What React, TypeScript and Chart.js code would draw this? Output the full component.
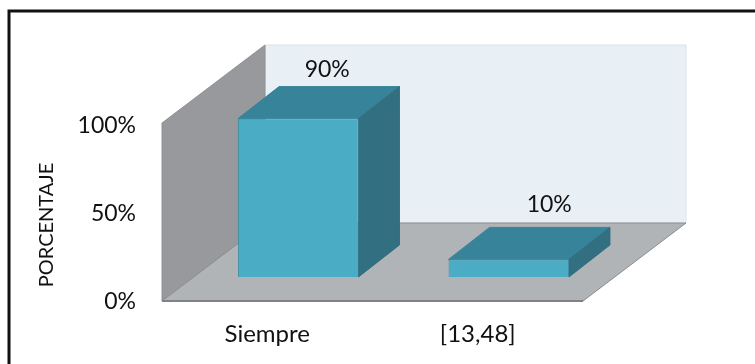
import React, { useEffect, useRef } from "react";
import { Chart, registerables } from "chart.js";

Chart.register(...registerables);

const categories = ["Siempre", "[13,48]"];
const percentages = [90, 10];
const yTicks = [0, 50, 100];
const yTitle = "PORCENTAJE";

const FONT = "Lato, 'Noto Sans', sans-serif";

// Oblique projection: how far the back wall and the bar bases sit from the front plane.
const WALL_DEPTH = { x: 103, y: -78 };
const WALL_OVERHANG = 2; // walls rise slightly past the top tick
const BAR_INSET = { x: 31, y: -24 };
const BAR_DEPTH = { x: 41, y: -32 };
const LABEL_SHIFT = [
  { x: 29, y: -49 },
  { x: 40.5, y: -55 },
];

function poly(ctx: CanvasRenderingContext2D, pts: number[][], fill: string, stroke?: string, lw = 1) {
  ctx.beginPath();
  pts.forEach(([x, y], i) => (i ? ctx.lineTo(x, y) : ctx.moveTo(x, y)));
  ctx.closePath();
  ctx.fillStyle = fill;
  ctx.fill();
  if (stroke) {
    ctx.strokeStyle = stroke;
    ctx.lineWidth = lw;
    ctx.stroke();
  }
}

const scene3d = {
  id: "scene3d",
  beforeDraw(chart: any) {
    const { ctx, chartArea: a } = chart;
    const dx = WALL_DEPTH.x;
    const dy = WALL_DEPTH.y;
    const top = a.top - WALL_OVERHANG;
    ctx.save();
    // Outer frame: only the top and left rules fall inside the page.
    ctx.strokeStyle = "#111111";
    ctx.lineWidth = 3;
    ctx.beginPath();
    ctx.moveTo(9, 364);
    ctx.lineTo(9, 11);
    ctx.lineTo(755, 11);
    ctx.stroke();
    // Back wall
    poly(ctx, [[a.left + dx, top + dy], [a.right + dx, top + dy], [a.right + dx, a.bottom + dy], [a.left + dx, a.bottom + dy]], "#E8EFF5", "#DDE3E9");
    // Side wall
    poly(ctx, [[a.left, top], [a.left + dx, top + dy], [a.left + dx, a.bottom + dy], [a.left, a.bottom]], "#97999C", "#8E9094");
    // Floor
    poly(ctx, [[a.left, a.bottom], [a.right, a.bottom], [a.right + dx, a.bottom + dy], [a.left + dx, a.bottom + dy]], "#B0B4B7", "#8A8C8E");
    ctx.strokeStyle = "#808285";
    ctx.lineWidth = 2;
    ctx.beginPath();
    ctx.moveTo(a.left, a.bottom);
    ctx.lineTo(a.right, a.bottom);
    ctx.stroke();
    // Axis title, centred on the lower part of the axis
    ctx.translate(47, 225);
    ctx.rotate(-Math.PI / 2);
    ctx.fillStyle = "#111111";
    ctx.font = `20px ${FONT}`;
    ctx.textAlign = "center";
    ctx.textBaseline = "middle";
    ctx.fillText(yTitle, 0, 0);
    ctx.restore();
  },
  beforeDatasetDraw(chart: any) {
    const { ctx } = chart;
    const dx = BAR_DEPTH.x;
    const dy = BAR_DEPTH.y;
    ctx.save();
    ctx.translate(BAR_INSET.x, BAR_INSET.y);
    chart.getDatasetMeta(0).data.forEach((bar: any) => {
      const { x, y, base, width } = bar.getProps(["x", "y", "base", "width"], true);
      const l = x - width / 2;
      const r = x + width / 2;
      poly(ctx, [[l, y], [r, y], [r + dx, y + dy], [l + dx, y + dy]], "#37839A", "#37839A");
      poly(ctx, [[r, y], [r + dx, y + dy], [r + dx, base + dy], [r, base]], "#326F80", "#326F80");
    });
  },
  afterDatasetDraw(chart: any) {
    const { ctx } = chart;
    ctx.restore();
    ctx.save();
    ctx.fillStyle = "#111111";
    ctx.font = `23px ${FONT}`;
    ctx.textAlign = "center";
    ctx.textBaseline = "middle";
    chart.getDatasetMeta(0).data.forEach((bar: any, i: number) => {
      const { x, y } = bar.getProps(["x", "y"], true);
      ctx.fillText(
        `${percentages[i]}%`,
        x + BAR_INSET.x + LABEL_SHIFT[i].x,
        y + BAR_INSET.y + LABEL_SHIFT[i].y,
      );
    });
    ctx.restore();
  },
};

export default function App() {
  const ref = useRef<HTMLCanvasElement>(null);

  useEffect(() => {
    const chart = new Chart(ref.current!, {
      type: "bar",
      data: {
        labels: categories,
        datasets: [
          {
            data: percentages,
            backgroundColor: "#4BACC6",
            borderColor: "#3F90A6",
            borderWidth: 1,
            barPercentage: 0.572,
            categoryPercentage: 1,
            clip: false,
          } as any,
        ],
      },
      options: {
        responsive: false,
        animation: false,
        layout: { padding: { top: 125, right: 172, left: 0, bottom: 0 } },
        plugins: { legend: { display: false }, tooltip: { enabled: false } },
        scales: {
          x: {
            grid: { display: false },
            border: { display: false },
            ticks: { color: "#111111", font: { family: FONT, size: 24 }, padding: 11, maxRotation: 0 },
            afterFit: (s: any) => {
              s.height = 63;
            },
          },
          y: {
            min: 0,
            max: 100,
            afterBuildTicks: (s: any) => {
              s.ticks = yTicks.map((value) => ({ value }));
            },
            grid: { display: false },
            border: { display: false },
            ticks: {
              color: "#111111",
              font: { family: FONT, size: 23 },
              padding: 18,
              labelOffset: 1,
              callback: (v: any) => `${v}%`,
            },
            afterFit: (s: any) => {
              s.width = 162;
            },
          },
        },
      },
      plugins: [scene3d],
    } as any);
    return () => chart.destroy();
  }, []);

  return (
    <canvas
      ref={ref}
      width={755}
      height={364}
      style={{ position: "fixed", left: 0, top: 0, display: "block", background: "#ffffff" }}
    />
  );
}
